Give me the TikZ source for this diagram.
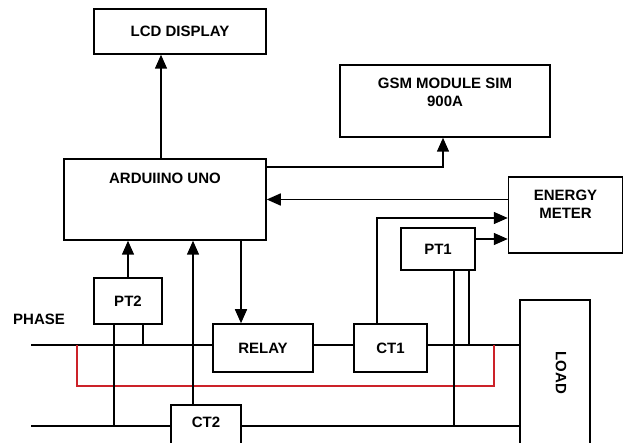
\documentclass[tikz,border=0pt]{standalone}
\usepackage{fontspec}
\setmainfont{Liberation Sans}
\usetikzlibrary{arrows.meta}
\definecolor{wirered}{RGB}{204,34,41}
\begin{document}
\begin{tikzpicture}[x=1pt,y=-1pt,
    blk/.style={draw,line width=1.5pt,fill=white,inner sep=0pt},
    txt/.style={font=\fontsize{15}{18}\selectfont\bfseries,align=center},
    toptxt/.style={txt,anchor=north,inner sep=0pt,yshift=-#1},
    wire/.style={line width=1.5pt},
    arr/.style={wire,-{Triangle[length=14pt,width=12pt]}}]

\useasboundingbox (0,0) rectangle (624,443);
\clip (0,0) rectangle (624,443);

\node[blk,txt,minimum width=172pt,minimum height=45pt] (lcd) at (180,31.5) {LCD DISPLAY};
\node[blk,minimum width=210pt,minimum height=72pt,label={[toptxt=13.6pt]north:{GSM MODULE SIM\\900A}}] (gsm) at (445,101) {};
\node[blk,minimum width=202pt,minimum height=81pt,label={[toptxt=14.6pt]north:ARDUIINO UNO}] (ard) at (165,199.5) {};
\node[blk,minimum width=114pt,minimum height=76pt,label={[toptxt=13.6pt]north:{ENERGY\\METER}}] (em) at (565.5,215) {};
\node[blk,txt,minimum width=74pt,minimum height=42pt] (pt1) at (438,249) {PT1};
\node[blk,txt,minimum width=73pt,minimum height=48pt] (ct1) at (390.5,348) {CT1};
\node[blk,txt,minimum width=100pt,minimum height=48pt] (relay) at (263,348) {RELAY};
\node[blk,txt,minimum width=68pt,minimum height=46pt] (pt2) at (128,301) {PT2};
\node[blk,minimum width=70pt,minimum height=60pt,label={[toptxt=12.6pt]north:CT2}] (ct2) at (206,435) {};
\node[blk,minimum width=70pt,minimum height=146pt,label={[txt,xshift=6pt,rotate=-90]center:LOAD}] (load) at (555,373) {};
\node[txt,anchor=west,inner sep=0pt] (phase) at (13,319) {PHASE};

% phase and neutral
\coordinate (ph) at (31,345);
\coordinate (nt) at (31,426);
\draw[wire] (ph) -- (ph -| relay.west);
\draw[wire] (ph -| relay.east) -- (ph -| ct1.west);
\draw[wire] (ph -| ct1.east) -- (ph -| load.west);
\draw[wire] (nt) -- (nt -| ct2.west);
\draw[wire] (nt -| ct2.east) -- (nt -| load.west);

\coordinate (r1) at (77,345);
\coordinate (r2) at (494,345);
\draw[wire,wirered] (r1) -- ++(0,41) -| (r2);

% sensors
\draw[wire] ([xshift=-14pt]pt2.south) -- ([xshift=-14pt]pt2.south |- nt);
\draw[wire] ([xshift=15pt]pt2.south) -- ([xshift=15pt]pt2.south |- ph);
\draw[wire] ([xshift=16pt]pt1.south) -- ([xshift=16pt]pt1.south |- nt);
\draw[wire] ([xshift=31pt]pt1.south) -- ([xshift=31pt]pt1.south |- ph);

\draw[arr] (pt2.north) -- (pt2.north |- ard.south);
\draw[arr] ([xshift=-13pt]ct2.north) -- ([xshift=-13pt]ct2.north |- ard.south);
\draw[arr] ([xshift=-22pt]relay.north |- ard.south) -- ([xshift=-22pt]relay.north);
\draw[arr] ([xshift=-4pt]ard.north) -- ([xshift=-4pt]ard.north |- lcd.south);
\draw[arr] ([yshift=32.5pt]ard.east) -| ([xshift=-2pt]gsm.south);
\draw[arr] (ard.east -| em.west) -- (ard.east);
\draw[arr] ([xshift=-13.5pt]ct1.north) |- ([yshift=-3pt]em.west);
\draw[arr] ([yshift=10pt]pt1.east) -- ([yshift=10pt]pt1.east -| em.west);

\end{tikzpicture}
\end{document}
